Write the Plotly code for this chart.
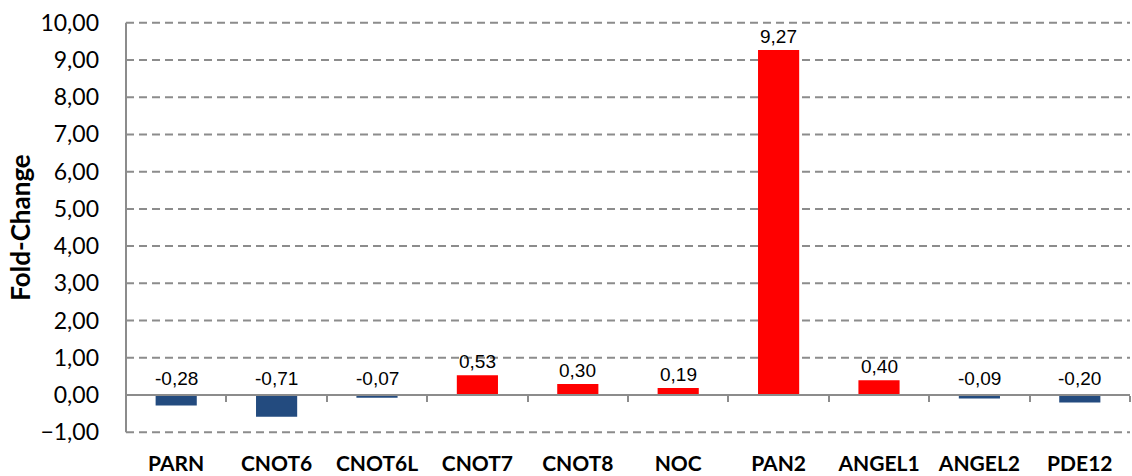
"""Fold-change bar chart, Excel-style, rebuilt in Plotly."""

import plotly.graph_objects as go

# ── Data ─────────────────────────────────────────────────────────────────────

GENES = ['PARN', 'CNOT6', 'CNOT6L', 'CNOT7', 'CNOT8',
         'NOC', 'PAN2', 'ANGEL1', 'ANGEL2', 'PDE12']
FOLD_CHANGE = [-0.28, -0.58, -0.07, 0.53, 0.30, 0.19, 9.27, 0.40, -0.09, -0.20]
LABELS = ['-0,28', '-0,71', '-0,07', '0,53', '0,30',
          '0,19', '9,27', '0,40', '-0,09', '-0,20']
Y_TICKS = [-1, 0, 1, 2, 3, 4, 5, 6, 7, 8, 9, 10]

RED = '#FF0000'
BLUE = '#234B7F'
GREY = '#8C8C8C'
TICK_FONT = 'Lato, "Open Sans", sans-serif'
LABEL_FONT = '"Liberation Sans", Arial, sans-serif'

fig = go.Figure()

fig.add_trace(go.Bar(
    x=GENES, y=FOLD_CHANGE, xaxis='x', yaxis='y',
    marker=dict(color=[RED if v >= 0 else BLUE for v in FOLD_CHANGE], line=dict(width=0)),
    showlegend=False, hoverinfo='x+y',
))

# invisible copy that carries the bottom category labels
fig.add_trace(go.Scatter(
    x=GENES, y=[0] * len(GENES), xaxis='x2', yaxis='y',
    mode='markers', marker=dict(opacity=0), showlegend=False, hoverinfo='skip',
))

# data labels: above the bar top for positives, above the zero line for negatives
for g, v, t in zip(GENES, FOLD_CHANGE, LABELS):
    fig.add_annotation(
        x=g, y=max(v, 0), text=t, showarrow=False,
        yanchor='bottom', yshift=1 if v >= 0 else 4,
        font=dict(family=LABEL_FONT, size=19, color='#000000'),
    )

y_lo, y_hi = Y_TICKS[0] - 0.1, Y_TICKS[-1] + 0.1
zero_pos = (0 - y_lo) / (y_hi - y_lo)

# dashed horizontal gridlines (zero gets the solid category axis instead)
grid = [dict(type='line', xref='paper', yref='y', x0=0, x1=1, y0=t, y1=t, layer='below',
             line=dict(color=GREY, width=2, dash='8px,5px'))
        for t in Y_TICKS if t != 0]
# the vertical axis line spans only -1 .. 10
grid.append(dict(type='line', xref='paper', yref='y', x0=0, x1=0,
                 y0=Y_TICKS[0], y1=Y_TICKS[-1], line=dict(color=GREY, width=2)))

fig.update_layout(
    width=1132, height=476,
    paper_bgcolor='white', plot_bgcolor='white',
    separators=', ',
    margin=dict(l=126, r=2, t=19, b=40),
    bargap=0.59,
    xaxis=dict(
        type='category', anchor='free', position=zero_pos,
        showticklabels=False, showgrid=False, zeroline=False,
        showline=True, linecolor=GREY, linewidth=2,
        ticks='outside', tickson='boundaries', ticklen=6, tickcolor=GREY, tickwidth=2,
        range=[-0.5, len(GENES) - 0.5],
    ),
    xaxis2=dict(
        type='category', overlaying='x', matches='x', side='bottom', anchor='y',
        showgrid=False, zeroline=False, showline=False, ticks='',
        tickfont=dict(family=TICK_FONT, size=21, color='#000000', weight='bold'),
        ticklabelstandoff=13, automargin=False,
    ),
    yaxis=dict(
        range=[y_lo, y_hi], tickvals=Y_TICKS, tickformat='.2f',
        showgrid=False, zeroline=False, showline=False,
        ticks='', ticklabelstandoff=26, automargin=False,
        tickfont=dict(family=TICK_FONT, size=23, color='#000000'),
        title=dict(text='Fold-Change', standoff=2,
                   font=dict(family=TICK_FONT, size=26, color='#000000', weight='bold')),
    ),
    shapes=grid,
)

fig.write_html('out.html', config={'displayModeBar': False},
               post_script="document.body.style.margin='0';")
